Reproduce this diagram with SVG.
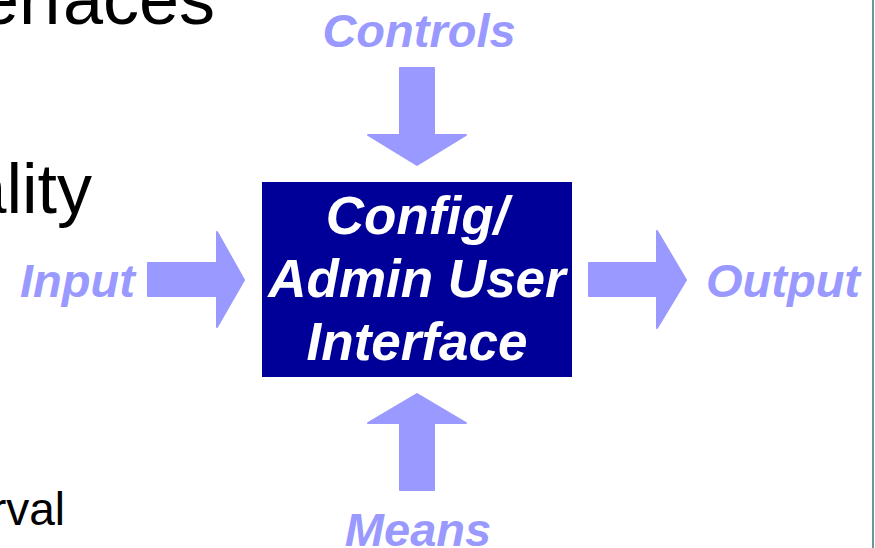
<svg xmlns="http://www.w3.org/2000/svg" width="875" height="548" viewBox="0 0 875 548">
<style>
.bg{font-family:"Liberation Sans",Arial,sans-serif;fill:#000000}
.lbl{font-family:"Liberation Sans",Arial,sans-serif;font-weight:bold;font-style:italic;font-size:47px;fill:#9999ff}
.box{font-family:"Liberation Sans",Arial,sans-serif;font-weight:bold;font-style:italic;font-size:53px;fill:#ffffff;text-anchor:middle}
.arr{fill:#9999ff;stroke:#9999ff;stroke-width:2;stroke-linejoin:round}
</style>
<rect x="0" y="0" width="875" height="548" fill="#ffffff"/>
<g id="background-text">
<text class="bg" x="215" y="24" font-size="72" text-anchor="end">erfaces</text>
<text class="bg" x="92" y="213" font-size="70" text-anchor="end">ality</text>
<text class="bg" x="65" y="525" font-size="46" text-anchor="end">rval</text>
</g>
<rect id="edge-line" x="872" y="0" width="2" height="548" fill="#669999"/>
<g id="connectors">
<polygon class="arr" points="400,68 434,68 434,135 466,135 417,165 368,135 400,135"/>
<polygon class="arr" points="417,394 466,423 434,423 434,490 400,490 400,423 368,423"/>
<polygon class="arr" points="148,263 217,263 217,232 244,280 217,327 217,296 148,296"/>
<polygon class="arr" points="589,263 657,263 657,231 686,280 657,328 657,296 589,296"/>
</g>
<g id="node-main">
<rect x="262" y="182" width="310" height="195" fill="#000099"/>
<text class="box" x="417" y="234">Config/</text>
<text class="box" x="417" y="297">Admin User</text>
<text class="box" x="417" y="360">Interface</text>
</g>
<g id="label-controls"><text class="lbl" x="419" y="47" text-anchor="middle">Controls</text></g>
<g id="label-means"><text class="lbl" x="418" y="546" text-anchor="middle">Means</text></g>
<g id="label-input"><text class="lbl" x="20" y="297">Input</text></g>
<g id="label-output"><text class="lbl" x="706" y="297">Output</text></g>
</svg>
